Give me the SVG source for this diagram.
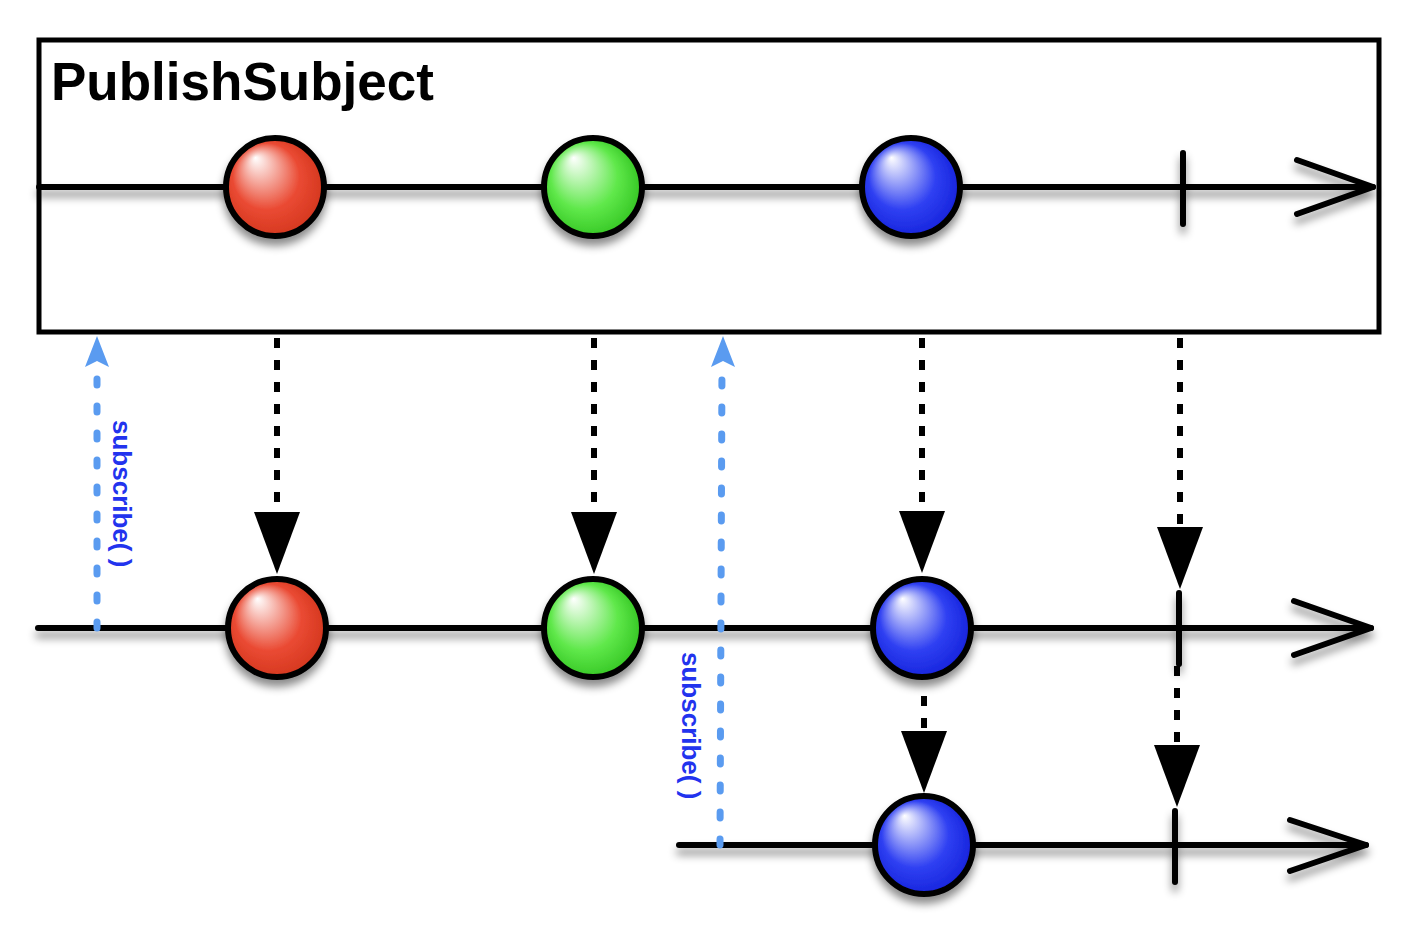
<svg xmlns="http://www.w3.org/2000/svg" width="1412" height="952" viewBox="0 0 1412 952">
<defs>
<filter id="sh" x="-20%" y="-50%" width="140%" height="250%">
<feDropShadow dx="0" dy="7" stdDeviation="4" flood-color="#000" flood-opacity="0.45"/>
</filter>
<radialGradient id="gr" cx="0.5" cy="0.55" r="0.62" fx="0.3" fy="0.2">
<stop offset="0" stop-color="#ffffff"/><stop offset="0.55" stop-color="#ea4a33"/><stop offset="0.8" stop-color="#d83a22"/><stop offset="1" stop-color="#8a1e10"/>
</radialGradient>
<radialGradient id="gg" cx="0.5" cy="0.55" r="0.62" fx="0.3" fy="0.2">
<stop offset="0" stop-color="#ffffff"/><stop offset="0.55" stop-color="#5fe84a"/><stop offset="0.8" stop-color="#3ccc2a"/><stop offset="1" stop-color="#1a7a10"/>
</radialGradient>
<radialGradient id="gb" cx="0.5" cy="0.55" r="0.62" fx="0.3" fy="0.2">
<stop offset="0" stop-color="#ffffff"/><stop offset="0.55" stop-color="#2f40f2"/><stop offset="0.8" stop-color="#1a28e0"/><stop offset="1" stop-color="#0a1270"/>
</radialGradient>
<path id="tri" d="M-23,0 L23,0 L0,62 Z" fill="#000"/>
<path id="btri" d="M0,0 L12,31 L0,25 L-12,31 Z" fill="#5a9bf0"/>
</defs>
<style>
.line{stroke:#000;stroke-width:6;fill:none;stroke-linecap:round;stroke-linejoin:round}
.ball{stroke:#000;stroke-width:6}
.dot{stroke:#000;stroke-width:6;fill:none;stroke-dasharray:10 12}
.bdot{stroke:#5a9bf0;stroke-width:7;fill:none;stroke-linecap:round;stroke-dasharray:6 21}
.lbl{font-family:"Liberation Sans",Arial,sans-serif;font-weight:bold;font-size:26px;fill:#2233ee}
</style>
<g id="subject">
<rect x="39" y="40" width="1340" height="292" fill="#fff" stroke="#000" stroke-width="5"/>
<text x="51" y="100" font-family="Liberation Sans, Arial, sans-serif" font-weight="bold" font-size="53" fill="#000">PublishSubject</text>
</g>
<g id="timeline-top" filter="url(#sh)">
<line class="line" x1="39" y1="187" x2="1373" y2="187"/>
<polyline class="line" points="1297,160 1373,187 1297,214"/>
<line class="line" x1="1183" y1="153" x2="1183" y2="224"/>
</g>
<g id="timeline-mid" filter="url(#sh)">
<line class="line" x1="38" y1="628" x2="1371" y2="628"/>
<polyline class="line" points="1294,601 1371,628 1294,655"/>
<line class="line" x1="1179" y1="593" x2="1179" y2="664"/>
</g>
<g id="timeline-bot" filter="url(#sh)">
<line class="line" x1="679" y1="845" x2="1366" y2="845"/>
<polyline class="line" points="1290,820 1366,845 1290,871"/>
<line class="line" x1="1175" y1="811" x2="1175" y2="882"/>
</g>
<g id="connectors">
<line class="dot" x1="277" y1="338" x2="277" y2="514"/>
<use href="#tri" x="277" y="512"/>
<line class="dot" x1="594" y1="338" x2="594" y2="514"/>
<use href="#tri" x="594" y="512"/>
<line class="dot" x1="922" y1="338" x2="922" y2="514"/>
<use href="#tri" x="922" y="511"/>
<line class="dot" x1="1180" y1="338" x2="1180" y2="529"/>
<use href="#tri" x="1180" y="527"/>
<line class="dot" x1="924" y1="696" x2="924" y2="733"/>
<use href="#tri" x="924" y="731"/>
<line class="dot" x1="1177" y1="666" x2="1177" y2="748"/>
<use href="#tri" x="1177" y="745"/>
<line class="bdot" x1="97" y1="628" x2="97" y2="362"/>
<use href="#btri" x="97" y="336"/>
<line class="bdot" x1="720" y1="845" x2="722" y2="362"/>
<use href="#btri" x="723" y="336"/>
</g>
<g id="label-subscribe-1"><text class="lbl" transform="translate(113,420) rotate(90)">subscribe( )</text></g>
<g id="label-subscribe-2"><text class="lbl" transform="translate(682,652) rotate(90)">subscribe( )</text></g>
<g id="ball-red-top" filter="url(#sh)"><circle class="ball" cx="275" cy="187" r="49" fill="url(#gr)"/></g>
<g id="ball-green-top" filter="url(#sh)"><circle class="ball" cx="593" cy="187" r="49" fill="url(#gg)"/></g>
<g id="ball-blue-top" filter="url(#sh)"><circle class="ball" cx="911" cy="187" r="49" fill="url(#gb)"/></g>
<g id="ball-red-mid" filter="url(#sh)"><circle class="ball" cx="277" cy="628" r="49" fill="url(#gr)"/></g>
<g id="ball-green-mid" filter="url(#sh)"><circle class="ball" cx="593" cy="628" r="49" fill="url(#gg)"/></g>
<g id="ball-blue-mid" filter="url(#sh)"><circle class="ball" cx="922" cy="628" r="49" fill="url(#gb)"/></g>
<g id="ball-blue-bot" filter="url(#sh)"><circle class="ball" cx="924" cy="845" r="49" fill="url(#gb)"/></g>
</svg>
